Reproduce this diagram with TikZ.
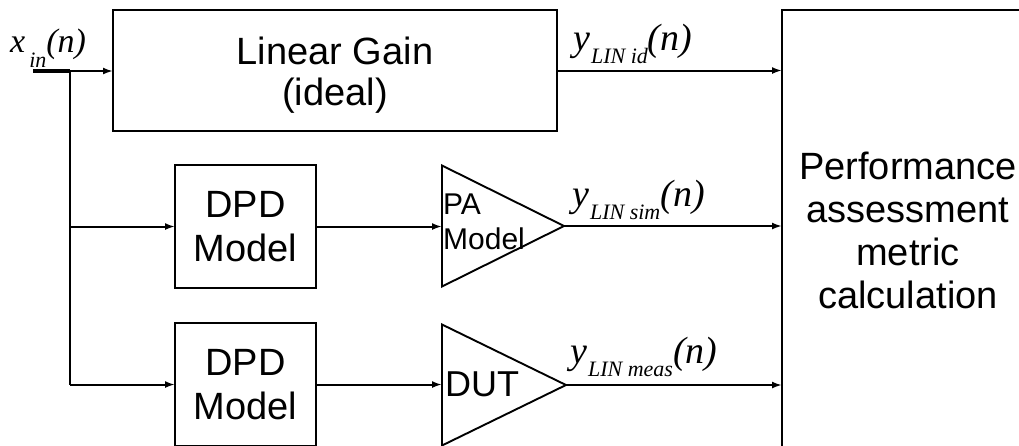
\documentclass[tikz,border=0pt]{standalone}
\usepackage{fontspec}
\setmainfont{Liberation Sans}
\newfontfamily\timesf{Liberation Serif}
\usetikzlibrary{arrows.meta,shapes.geometric}
\newcommand{\siglab}[6]{{\timesf\itshape\fontsize{#3}{#3}\selectfont #1\kern#6pt\raisebox{-#5pt}{\fontsize{#4}{#4}\selectfont #2}(n)}}
\begin{document}
\begin{tikzpicture}[x=1pt,y=-1pt,
  wire/.style={line width=2pt},
  blk/.style={draw,line width=1.9pt,inner sep=0pt,outer sep=0pt,align=center,font=\fontsize{38}{44}\selectfont},
  amp/.style={draw,line width=1.9pt,isosceles triangle,isosceles triangle stretches,shape border rotate=0,inner sep=0pt,outer sep=0pt},
  arr/.style={wire,-{Latex[length=10pt,width=7pt]}},
  sig/.style={anchor=base west,inner sep=0pt}]
\useasboundingbox (0,0) rectangle (1019,445);
\clip (0,0) rectangle (1019,445);
\node[blk,minimum width=444pt,minimum height=121pt,font=\fontsize{38}{41}\selectfont] (lg) at (335,70.5) {\rule{0pt}{36pt}Linear Gain\\(ideal)};
\node[blk,minimum width=141pt,minimum height=123pt] (dpd1) at (245.5,226.5) {DPD\\Model};
\node[blk,minimum width=141pt,minimum height=123pt] (dpd2) at (245.5,384.5) {DPD\\Model};
\node[amp,minimum width=121pt,minimum height=122pt,anchor=west] (pa) at (442,226) {};
\node[amp,minimum width=121pt,minimum height=124pt,anchor=west] (dut) at (442,385) {};
\node[anchor=north west,inner sep=0pt,align=left,font=\fontsize{30}{35}\selectfont] (patxt) at (443,194) {PA\\Model};
\node[anchor=base west,inner sep=0pt,font=\fontsize{36}{36}\selectfont] (duttxt) at (445,396) {DUT};
\node[blk,minimum width=252pt,minimum height=440pt,font=\fontsize{38}{43}\selectfont] (pm) at (908,230) {Performance\\assessment\\metric\\calculation};
\coordinate (in) at (33,71);
\coordinate (split) at (70,71);
\draw[line width=4pt] (in) -- (split);
\draw[arr] (split) -- (split -| lg.west);
\draw[wire] (split) -- (split |- dpd2.west);
\draw[arr] (split |- dpd1.west) -- (dpd1.west);
\draw[arr] (split |- dpd2.west) -- (dpd2.west);
\draw[arr] (dpd1.east) -- (dpd1.east -| pa.west);
\draw[arr] (dpd2.east) -- (dpd2.east -| dut.west);
\draw[arr] (lg.east) -- (lg.east -| pm.west);
\draw[arr] (pa.apex) -- (pa.apex -| pm.west);
\draw[arr] (dut.apex) -- (dut.apex -| pm.west);
\node[sig] (xin) at (10,52) {\siglab{x}{in}{34}{22}{15}{4}};
\node[sig] (yid) at (573,50) {\siglab{y}{LIN id}{38}{22}{13}{1}};
\node[sig] (ysim) at (572,206) {\siglab{y}{LIN sim}{38}{22}{13}{1}};
\node[sig] (ymeas) at (570,363) {\siglab{y}{LIN meas}{38}{22}{13}{1}};
\end{tikzpicture}
\end{document}
